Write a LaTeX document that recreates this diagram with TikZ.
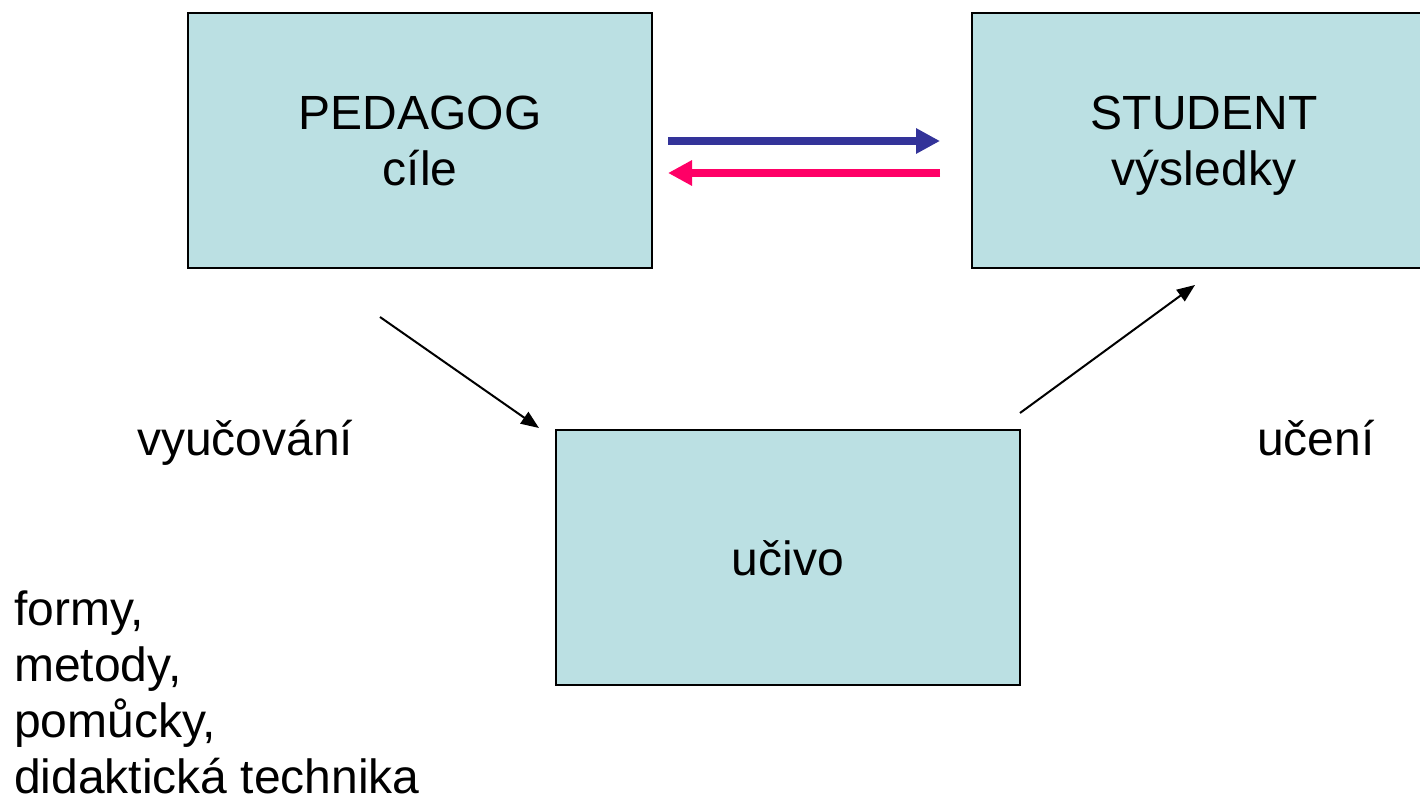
\documentclass[tikz,border=0pt]{standalone}
\usepackage{fontspec}
\setmainfont{Liberation Sans}
\usetikzlibrary{arrows.meta}
\definecolor{boxfill}{HTML}{BBE0E3}
\definecolor{arrblue}{HTML}{333399}
\definecolor{arrpink}{HTML}{FF0066}
\tikzset{
  box/.style={draw=black, line width=2pt, fill=boxfill, minimum width=464pt, minimum height=255pt, inner sep=0pt},
  lbl/.style={font=\fontsize{48}{56}\selectfont, inner sep=0pt},
  fat/.style={line width=8pt, -{Triangle[length=24pt,width=24pt]}},
  thin/.style={line width=2pt, -{Triangle[length=18pt,width=14pt]}}
}
\begin{document}
\begin{tikzpicture}[x=1pt,y=-1pt]
\useasboundingbox (0,0) rectangle (1420,803);
\fill[white] (0,0) rectangle (1420,803);
% boxes
\node[box] (pedagog) at (420,140.5) {};
\node[box] (student) at (1204,140.5) {};
\node[box] (ucivo) at (788,557) {};
% box texts
\node[lbl, anchor=base] (pedagogtxt) at (420,129) {PEDAGOG};
\node[lbl, anchor=base] (cile) at (420,185) {cíle};
\node[lbl, anchor=base] (studenttxt) at (1204,129) {STUDENT};
\node[lbl, anchor=base] (vysledky) at (1204,185) {výsledky};
\node[lbl, anchor=base] (ucivotxt) at (788,575) {učivo};
% side labels
\node[lbl, anchor=base west] (vyucovani) at (137,455) {vyučování};
\node[lbl, anchor=base west] (uceni) at (1257,455) {učení};
\node[lbl, anchor=base west] (formy) at (14,625) {formy,};
\node[lbl, anchor=base west] (metody) at (14,681) {metody,};
\node[lbl, anchor=base west] (pomucky) at (14,737) {pomůcky,};
\node[lbl, anchor=base west] (didakt) at (14,793) {didaktická technika};
% connector end points
\coordinate (b1) at (668,141);
\coordinate (b2) at (940,141);
\coordinate (p1) at (940,173);
\coordinate (p2) at (668,173);
\coordinate (a1) at (380,317);
\coordinate (a2) at (539,428);
\coordinate (c1) at (1020,413);
\coordinate (c2) at (1195,285);
% connectors
\draw[fat, draw=arrblue, fill=arrblue] (b1) -- (b2);
\draw[fat, draw=arrpink, fill=arrpink] (p1) -- (p2);
\draw[thin] (a1) -- (a2);
\draw[thin] (c1) -- (c2);
\end{tikzpicture}
\end{document}
